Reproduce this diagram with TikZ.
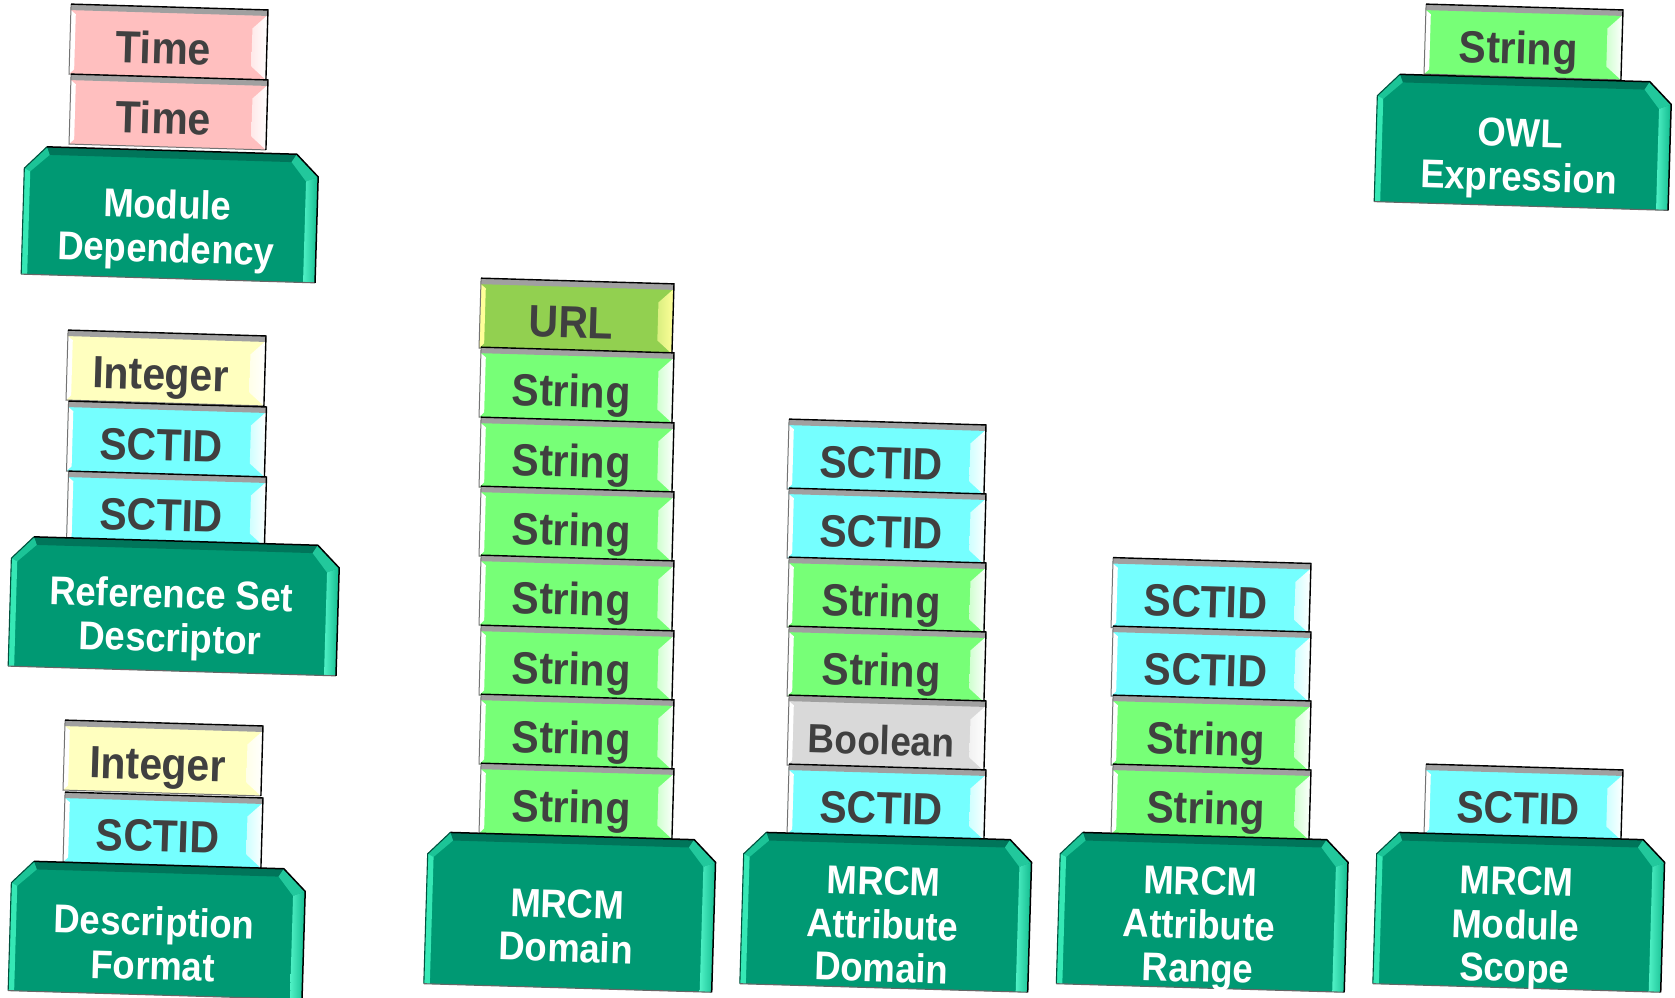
\documentclass[tikz,border=0pt]{standalone}
\usepackage{fontspec}
\setmainfont{Liberation Sans}

% face colours of the data-type blocks
\definecolor{timeface}{HTML}{FFBFBF}
\definecolor{intface}{HTML}{FFFFBF}
\definecolor{sctidface}{HTML}{75FFFF}
\definecolor{strface}{HTML}{77FF77}
\definecolor{urlface}{HTML}{92D050}
\definecolor{urlside}{HTML}{FFFF99}
\definecolor{boolface}{HTML}{D9D9D9}
\definecolor{dtextcol}{HTML}{404040}
\definecolor{dtop}{HTML}{A0A0A0}
% colours of the green base plates
\definecolor{baseface}{HTML}{009973}
\definecolor{basetop}{HTML}{00755A}
\definecolor{basetl}{HTML}{1CC497}
\definecolor{basetr}{HTML}{22C89C}
\definecolor{baseleft}{HTML}{36E8B5}
\definecolor{baserin}{HTML}{50F2C6}
\definecolor{baserout}{HTML}{12BA8E}
\definecolor{basedark}{HTML}{00523E}

\tikzset{
  dtext/.style={font=\fontsize{41}{41}\selectfont\bfseries, text=dtextcol,
    inner sep=0pt, transform shape, yscale=1.1},
  btext/.style={font=\fontsize{36.5}{42}\selectfont\bfseries, text=white,
    inner sep=0pt, transform shape, yscale=1.1},
}

% a bevelled data-type block: name, cx, cy, width, face, side, label
\newcommand{\dtype}[7]{%
  \begin{scope}[shift={(#2,#3)}, rotate=-1.7]
    \pgfmathsetmacro\hw{#4/2}
    \def\hh{35}
    \fill[#5] (-\hw,-\hh) rectangle (\hw,\hh);
    \fill[#6] (-\hw,-\hh+6) -- (-\hw+5,-\hh+10) -- (-\hw+5,\hh-5) -- (-\hw,\hh) -- cycle;
    \shade[left color=#6!65!#5, right color=#6]
      (\hw,-\hh+5) -- (\hw,\hh) -- (\hw-15,\hh-13) -- (\hw-15,-\hh+19) -- cycle;
    \fill[dtop] (-\hw,-\hh) -- (\hw,-\hh) -- (\hw,-\hh+6) -- (-\hw,-\hh+6) -- cycle;
    \draw[line width=1, black!55] (\hw,\hh) -- (-\hw,\hh) -- (-\hw,-\hh);
    \draw[line width=1.4, black] (-\hw,-\hh) -- (\hw,-\hh) -- (\hw,\hh);
    \node[dtext, anchor=base] (#1) at (-5,22) {#7};
  \end{scope}}

% a bevelled base plate: name, cx, cy, width, height, label lines
\newcommand{\basebox}[6]{%
  \begin{scope}[shift={(#2,#3)}, rotate=-1.7]
    \pgfmathsetmacro\hw{#4/2}
    \pgfmathsetmacro\hh{#5/2}
    \coordinate (#1-o1) at (-\hw,-\hh+22);
    \coordinate (#1-o2) at (-\hw+22,-\hh);
    \coordinate (#1-o3) at (\hw-22,-\hh);
    \coordinate (#1-o4) at (\hw,-\hh+22);
    \coordinate (#1-o5) at (\hw,\hh);
    \coordinate (#1-o6) at (-\hw,\hh);
    \coordinate (#1-i1) at (-\hw+6,-\hh+25);
    \coordinate (#1-i2) at (-\hw+25,-\hh+8);
    \coordinate (#1-i3) at (\hw-27,-\hh+8);
    \coordinate (#1-i4) at (\hw-12,-\hh+27);
    \coordinate (#1-i5) at (\hw-12,\hh);
    \coordinate (#1-i6) at (-\hw+6,\hh);
    \fill[baseface] (#1-o1) -- (#1-o2) -- (#1-o3) -- (#1-o4) -- (#1-o5) -- (#1-o6) -- cycle;
    \fill[basetop] (#1-o2) -- (#1-o3) -- (#1-i3) -- (#1-i2) -- cycle;
    \fill[basetl] (#1-o1) -- (#1-o2) -- (#1-i2) -- (#1-i1) -- cycle;
    \fill[baseleft] (#1-o1) -- (#1-i1) -- (#1-i6) -- (#1-o6) -- cycle;
    \fill[basetr] (#1-o3) -- (#1-o4) -- (#1-i4) -- (#1-i3) -- cycle;
    \shade[left color=baserin, right color=baserout]
      (#1-i4) -- (#1-o4) -- (#1-o5) -- (#1-i5) -- cycle;
    \draw[line width=1.1, basedark] (#1-o6) -- (#1-o1) -- (#1-o2);
    \draw[line width=1.1, black!60] (#1-o5) -- (#1-o6);
    \draw[line width=1.5, black, line join=round] (#1-o2) -- (#1-o3) -- (#1-o4) -- (#1-o5);
    #6
  \end{scope}}

\newcommand{\btext}[4]{\node[btext, anchor=base] (#1) at (#2,#3) {#4};}

\begin{document}
\begin{tikzpicture}[x=1pt, y=-1pt]
  \useasboundingbox (0,0) rectangle (1675,997);
  \fill[white] (0,0) rectangle (1675,997);
  \clip (0,0) rectangle (1675,997);

  % Module Dependency
  \dtype{mdt1}{168.5}{42}{197}{timeface}{white}{Time}
  \dtype{mdt2}{168.5}{112}{197}{timeface}{white}{Time}
  \basebox{md}{170}{214.5}{294}{128}{%
    \btext{mdl1}{-3}{4}{Module}\btext{mdl2}{-3}{48}{Dependency}}

  % Reference Set Descriptor
  \dtype{rsd1}{166}{368}{198}{intface}{white}{Integer}
  \dtype{rsd2}{166.5}{439}{198}{sctidface}{white}{SCTID}
  \dtype{rsd3}{166.5}{509}{198}{sctidface}{white}{SCTID}
  \basebox{rsd}{174}{606}{328}{130}{%
    \btext{rsdl1}{-3}{2}{Reference Set}\btext{rsdl2}{-3}{46}{Descriptor}}

  % Description Format
  \dtype{df1}{163}{758}{198}{intface}{white}{Integer}
  \dtype{df2}{163}{830}{198}{sctidface}{white}{SCTID}
  \basebox{df}{157}{930}{294}{130}{%
    \btext{dfl1}{-3}{6}{Description}\btext{dfl2}{-3}{50}{Format}}

  % MRCM Domain
  \dtype{dom1}{576.5}{316}{193}{urlface}{urlside}{URL}
  \dtype{dom2}{576.5}{385}{193}{strface}{white}{String}
  \dtype{dom3}{576.5}{455}{193}{strface}{white}{String}
  \dtype{dom4}{576.5}{524}{193}{strface}{white}{String}
  \dtype{dom5}{576.5}{593}{193}{strface}{white}{String}
  \dtype{dom6}{576.5}{663}{193}{strface}{white}{String}
  \dtype{dom7}{576.5}{732}{193}{strface}{white}{String}
  \dtype{dom8}{576.5}{801}{193}{strface}{white}{String}
  \basebox{dom}{570}{912}{288}{152}{%
    \btext{doml1}{-3}{6}{MRCM}\btext{doml2}{-3}{50}{Domain}}

  % MRCM Attribute Domain
  \dtype{adom1}{886.5}{457}{197}{sctidface}{white}{SCTID}
  \dtype{adom2}{886.5}{526}{197}{sctidface}{white}{SCTID}
  \dtype{adom3}{886.5}{595}{197}{strface}{white}{String}
  \dtype{adom4}{886.5}{664}{197}{strface}{white}{String}
  \dtype{adom5}{886.5}{733}{197}{boolface}{white}{\fontsize{37}{37}\selectfont Boolean}
  \dtype{adom6}{886.5}{802}{197}{sctidface}{white}{SCTID}
  \basebox{adom}{886}{912}{288}{152}{%
    \btext{adoml1}{-3}{-17}{MRCM}\btext{adoml2}{-3}{27}{Attribute}%
    \btext{adoml3}{-3}{70}{Domain}}

  % MRCM Attribute Range
  \dtype{arng1}{1211}{595.5}{198}{sctidface}{white}{SCTID}
  \dtype{arng2}{1211}{664}{198}{sctidface}{white}{SCTID}
  \dtype{arng3}{1211}{733}{198}{strface}{white}{String}
  \dtype{arng4}{1211}{802}{198}{strface}{white}{String}
  \basebox{arng}{1202.5}{912}{288}{152}{%
    \btext{arngl1}{-3}{-17}{MRCM}\btext{arngl2}{-3}{27}{Attribute}%
    \btext{arngl3}{-3}{70}{Range}}

  % MRCM Module Scope
  \dtype{ms1}{1523.5}{802}{197}{sctidface}{white}{SCTID}
  \basebox{ms}{1519}{912}{288}{152}{%
    \btext{msl1}{-3}{-17}{MRCM}\btext{msl2}{-3}{27}{Module}%
    \btext{msl3}{-3}{70}{Scope}}

  % OWL Expression
  \dtype{owl1}{1523.5}{42}{197}{strface}{white}{String}
  \basebox{owl}{1523}{142}{294}{128}{%
    \btext{owll1}{-3}{5}{OWL}\btext{owll2}{-3}{49}{Expression}}
\end{tikzpicture}
\end{document}
